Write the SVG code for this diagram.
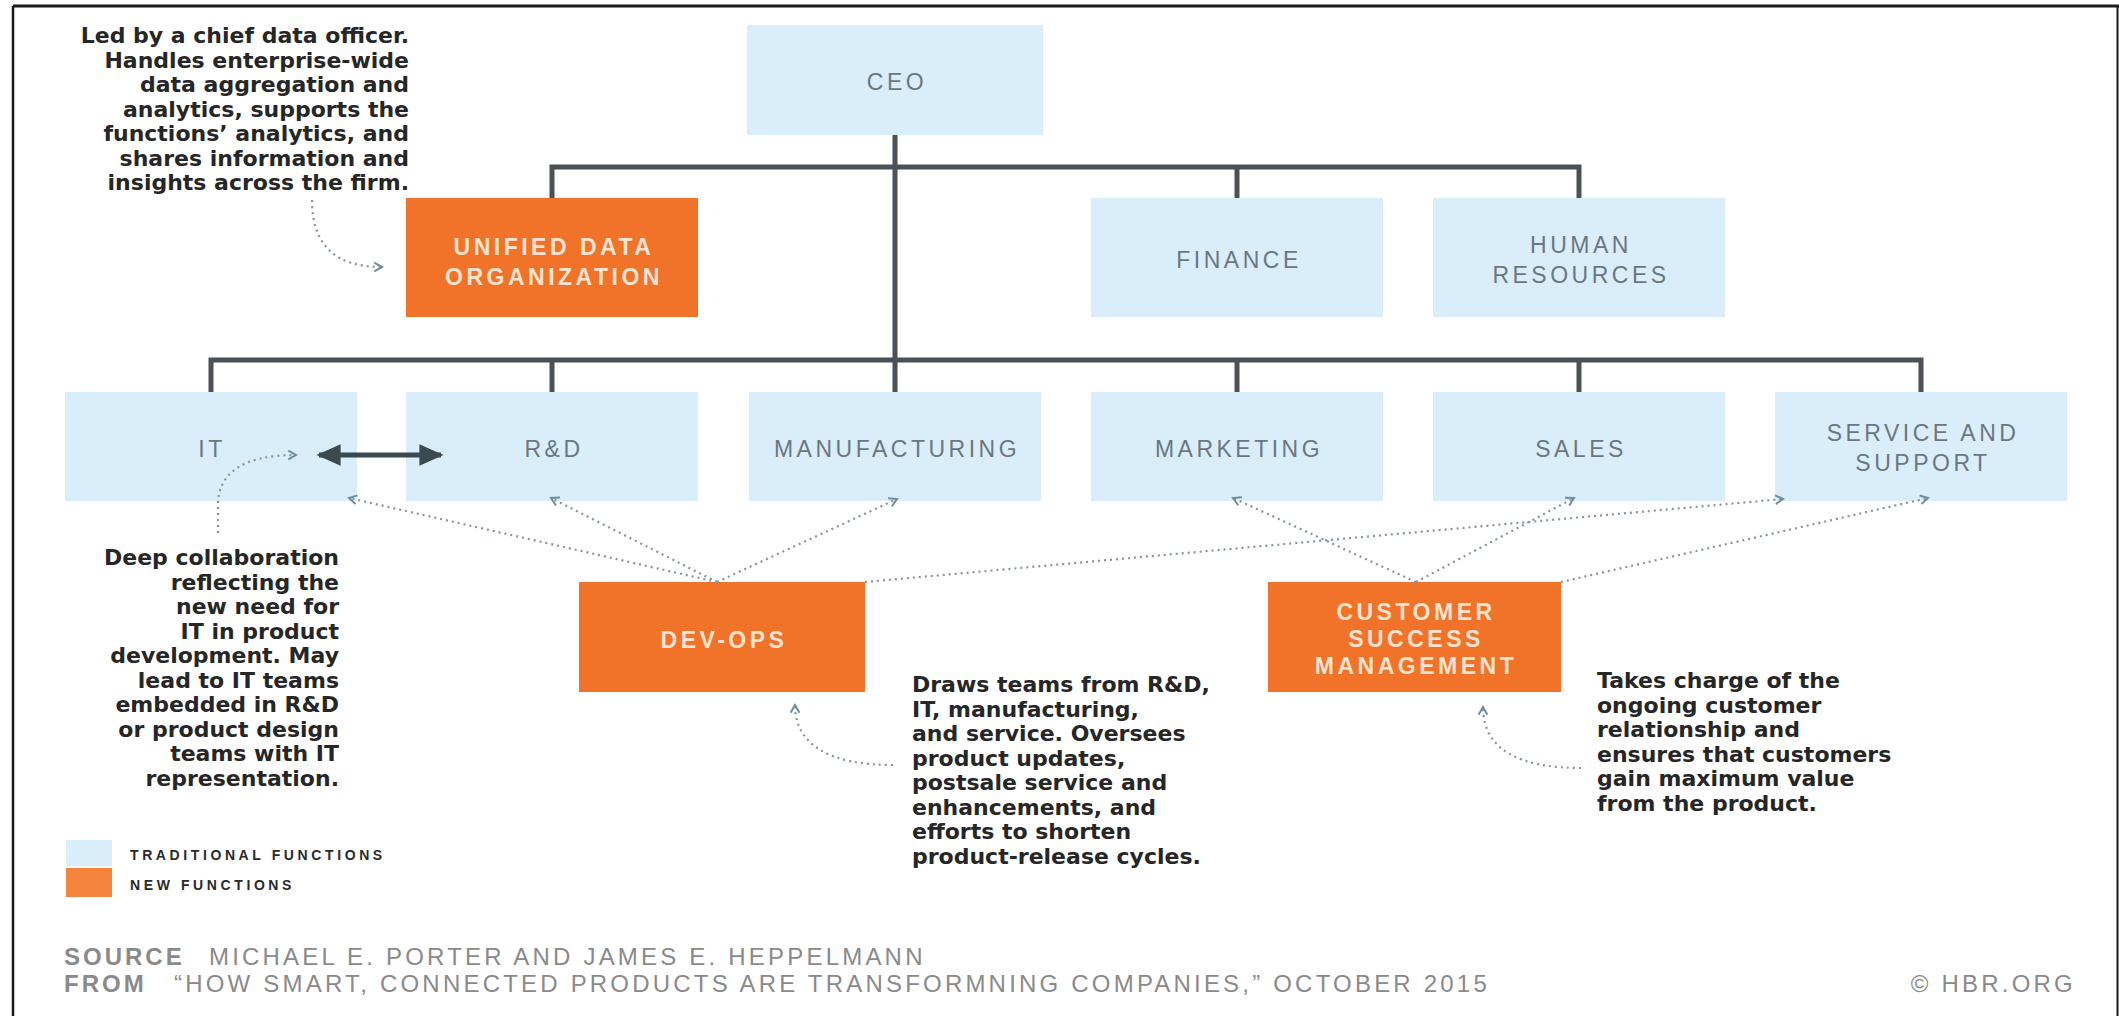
<svg xmlns="http://www.w3.org/2000/svg" width="2119" height="1016" viewBox="0 0 2119 1016">
<defs>
<marker id="chev" viewBox="0 0 10 10" refX="8" refY="5" markerWidth="11" markerHeight="11" markerUnits="userSpaceOnUse" orient="auto">
<path d="M1,1 L8,5 L1,9" fill="none" stroke="#6f8c9c" stroke-width="1.8"/>
</marker>
<marker id="head" viewBox="0 0 10 10" refX="9" refY="5" markerWidth="24" markerHeight="24" markerUnits="userSpaceOnUse" orient="auto-start-reverse">
<path d="M0,0.5 L10,5 L0,9.5 Z" fill="#3b4950"/>
</marker>
</defs>
<style>
.trad{fill:#d9eefa}
.newf{fill:#f07329}
.lbl{font-family:"Liberation Sans",Arial,sans-serif;font-size:23px;letter-spacing:3.5px;fill:#6b7780;text-anchor:middle}
.olbl{font-family:"Liberation Sans",Arial,sans-serif;font-size:23px;font-weight:bold;letter-spacing:3.5px;fill:#fce3d1;text-anchor:middle}
.tree{stroke:#4b5157;stroke-width:5;fill:none}
.dot{stroke:#8495a1;stroke-width:2.2;stroke-dasharray:2 4;fill:none}
.note{font-family:"DejaVu Sans",sans-serif;font-size:22px;font-weight:bold;fill:#262626}
.leg{font-family:"Liberation Sans",Arial,sans-serif;font-size:14px;font-weight:bold;letter-spacing:3.6px;fill:#2a2a2a}
.src{font-family:"Liberation Sans",Arial,sans-serif;font-size:24px;letter-spacing:3.2px;fill:#8a8a8a}
.srcb{font-family:"Liberation Sans",Arial,sans-serif;font-size:24px;font-weight:bold;letter-spacing:3px;fill:#8a8a8a}
</style>
<rect x="0" y="0" width="2119" height="1016" fill="#ffffff"/>
<g id="frame" fill="none" stroke="#1a1a1a">
<line x1="13" y1="6" x2="2119" y2="6" stroke-width="3"/>
<line x1="13" y1="6" x2="13" y2="1016" stroke-width="2.5"/>
<line x1="2117.5" y1="6" x2="2117.5" y2="1016" stroke-width="2"/>
</g>
<g id="ceo"><rect class="trad" x="747" y="25" width="296" height="110"/><text class="lbl" x="897" y="90">CEO</text></g>
<g id="udo"><rect class="newf" x="406" y="198" width="292" height="119"/><text class="olbl" x="554" y="255">UNIFIED DATA</text><text class="olbl" x="554" y="285">ORGANIZATION</text></g>
<g id="finance"><rect class="trad" x="1091" y="198" width="292" height="119"/><text class="lbl" x="1239" y="268">FINANCE</text></g>
<g id="hr"><rect class="trad" x="1433" y="198" width="292" height="119"/><text class="lbl" x="1581" y="253">HUMAN</text><text class="lbl" x="1581" y="283">RESOURCES</text></g>
<g id="it"><rect class="trad" x="65" y="392" width="292" height="109"/><text class="lbl" x="212" y="457">IT</text></g>
<g id="rnd"><rect class="trad" x="406" y="392" width="292" height="109"/><text class="lbl" x="554" y="457">R&amp;D</text></g>
<g id="mfg"><rect class="trad" x="749" y="392" width="292" height="109"/><text class="lbl" x="897" y="457">MANUFACTURING</text></g>
<g id="mkt"><rect class="trad" x="1091" y="392" width="292" height="109"/><text class="lbl" x="1239" y="457">MARKETING</text></g>
<g id="sales"><rect class="trad" x="1433" y="392" width="292" height="109"/><text class="lbl" x="1581" y="457">SALES</text></g>
<g id="svc"><rect class="trad" x="1775" y="392" width="292" height="109"/><text class="lbl" x="1923" y="441">SERVICE AND</text><text class="lbl" x="1923" y="471">SUPPORT</text></g>
<g id="devops"><rect class="newf" x="579" y="582" width="286" height="110"/><text class="olbl" x="724" y="648">DEV-OPS</text></g>
<g id="csm"><rect class="newf" x="1268" y="582" width="293" height="110"/><text class="olbl" x="1416" y="620">CUSTOMER</text><text class="olbl" x="1416" y="647">SUCCESS</text><text class="olbl" x="1416" y="674">MANAGEMENT</text></g>
<g id="connectors">
<path class="tree" d="M895,135 L895,360"/>
<path class="tree" d="M552,198 L552,167 L1579,167 L1579,198"/>
<path class="tree" d="M1237,167 L1237,198"/>
<path class="tree" d="M211,392 L211,360 L1921,360 L1921,392"/>
<path class="tree" d="M552,360 L552,392 M895,360 L895,392 M1237,360 L1237,392 M1579,360 L1579,392"/>
<line x1="319" y1="455" x2="441" y2="455" stroke="#3b4950" stroke-width="5" marker-start="url(#head)" marker-end="url(#head)"/>
<path class="dot" d="M717,582 L349,498" marker-end="url(#chev)"/>
<path class="dot" d="M717,582 L551,498" marker-end="url(#chev)"/>
<path class="dot" d="M717,582 L897,499" marker-end="url(#chev)"/>
<path class="dot" d="M865,582 L1783,499" marker-end="url(#chev)"/>
<path class="dot" d="M1416,582 L1233,498" marker-end="url(#chev)"/>
<path class="dot" d="M1416,582 L1574,498" marker-end="url(#chev)"/>
<path class="dot" d="M1561,582 L1928,498" marker-end="url(#chev)"/>
<path class="dot" d="M312,200 C312,245 335,267 382,267" marker-end="url(#chev)"/>
<path class="dot" d="M218,533 L218,505 C218,475 240,455 296,455" marker-end="url(#chev)"/>
<path class="dot" d="M893,765 C830,765 795,745 795,705" marker-end="url(#chev)"/>
<path class="dot" d="M1581,768 C1520,768 1483,750 1483,707" marker-end="url(#chev)"/>
</g>
<g id="note-udo" class="note" text-anchor="end">
<text x="409" y="43">Led by a chief data officer.</text>
<text x="409" y="67.5">Handles enterprise-wide</text>
<text x="409" y="92">data aggregation and</text>
<text x="409" y="116.5">analytics, supports the</text>
<text x="409" y="141">functions’ analytics, and</text>
<text x="409" y="165.5">shares information and</text>
<text x="409" y="190">insights across the firm.</text>
</g>
<g id="note-it" class="note" text-anchor="end">
<text x="339" y="565">Deep collaboration</text>
<text x="339" y="589.5">reflecting the</text>
<text x="339" y="614">new need for</text>
<text x="339" y="638.5">IT in product</text>
<text x="339" y="663">development. May</text>
<text x="339" y="687.5">lead to IT teams</text>
<text x="339" y="712">embedded in R&amp;D</text>
<text x="339" y="736.5">or product design</text>
<text x="339" y="761">teams with IT</text>
<text x="339" y="785.5">representation.</text>
</g>
<g id="note-devops" class="note">
<text x="912" y="692">Draws teams from R&amp;D,</text>
<text x="912" y="716.5">IT, manufacturing,</text>
<text x="912" y="741">and service. Oversees</text>
<text x="912" y="765.5">product updates,</text>
<text x="912" y="790">postsale service and</text>
<text x="912" y="814.5">enhancements, and</text>
<text x="912" y="839">efforts to shorten</text>
<text x="912" y="863.5">product-release cycles.</text>
</g>
<g id="note-csm" class="note">
<text x="1597" y="688">Takes charge of the</text>
<text x="1597" y="712.5">ongoing customer</text>
<text x="1597" y="737">relationship and</text>
<text x="1597" y="761.5">ensures that customers</text>
<text x="1597" y="786">gain maximum value</text>
<text x="1597" y="810.5">from the product.</text>
</g>
<g id="legend">
<rect class="trad" x="66" y="840" width="46" height="26"/>
<rect fill="#f4843c" x="66" y="868" width="46" height="29"/>
<text class="leg" x="130" y="860">TRADITIONAL FUNCTIONS</text>
<text class="leg" x="130" y="890">NEW FUNCTIONS</text>
</g>
<g id="source">
<text class="srcb" x="64" y="965">SOURCE</text>
<text class="src" x="209" y="965">MICHAEL E. PORTER AND JAMES E. HEPPELMANN</text>
<text class="srcb" x="64" y="992">FROM</text>
<text class="src" x="174" y="992">“HOW SMART, CONNECTED PRODUCTS ARE TRANSFORMNING COMPANIES,” OCTOBER 2015</text>
<text class="src" x="2076" y="992" text-anchor="end">© HBR.ORG</text>
</g>
</svg>
